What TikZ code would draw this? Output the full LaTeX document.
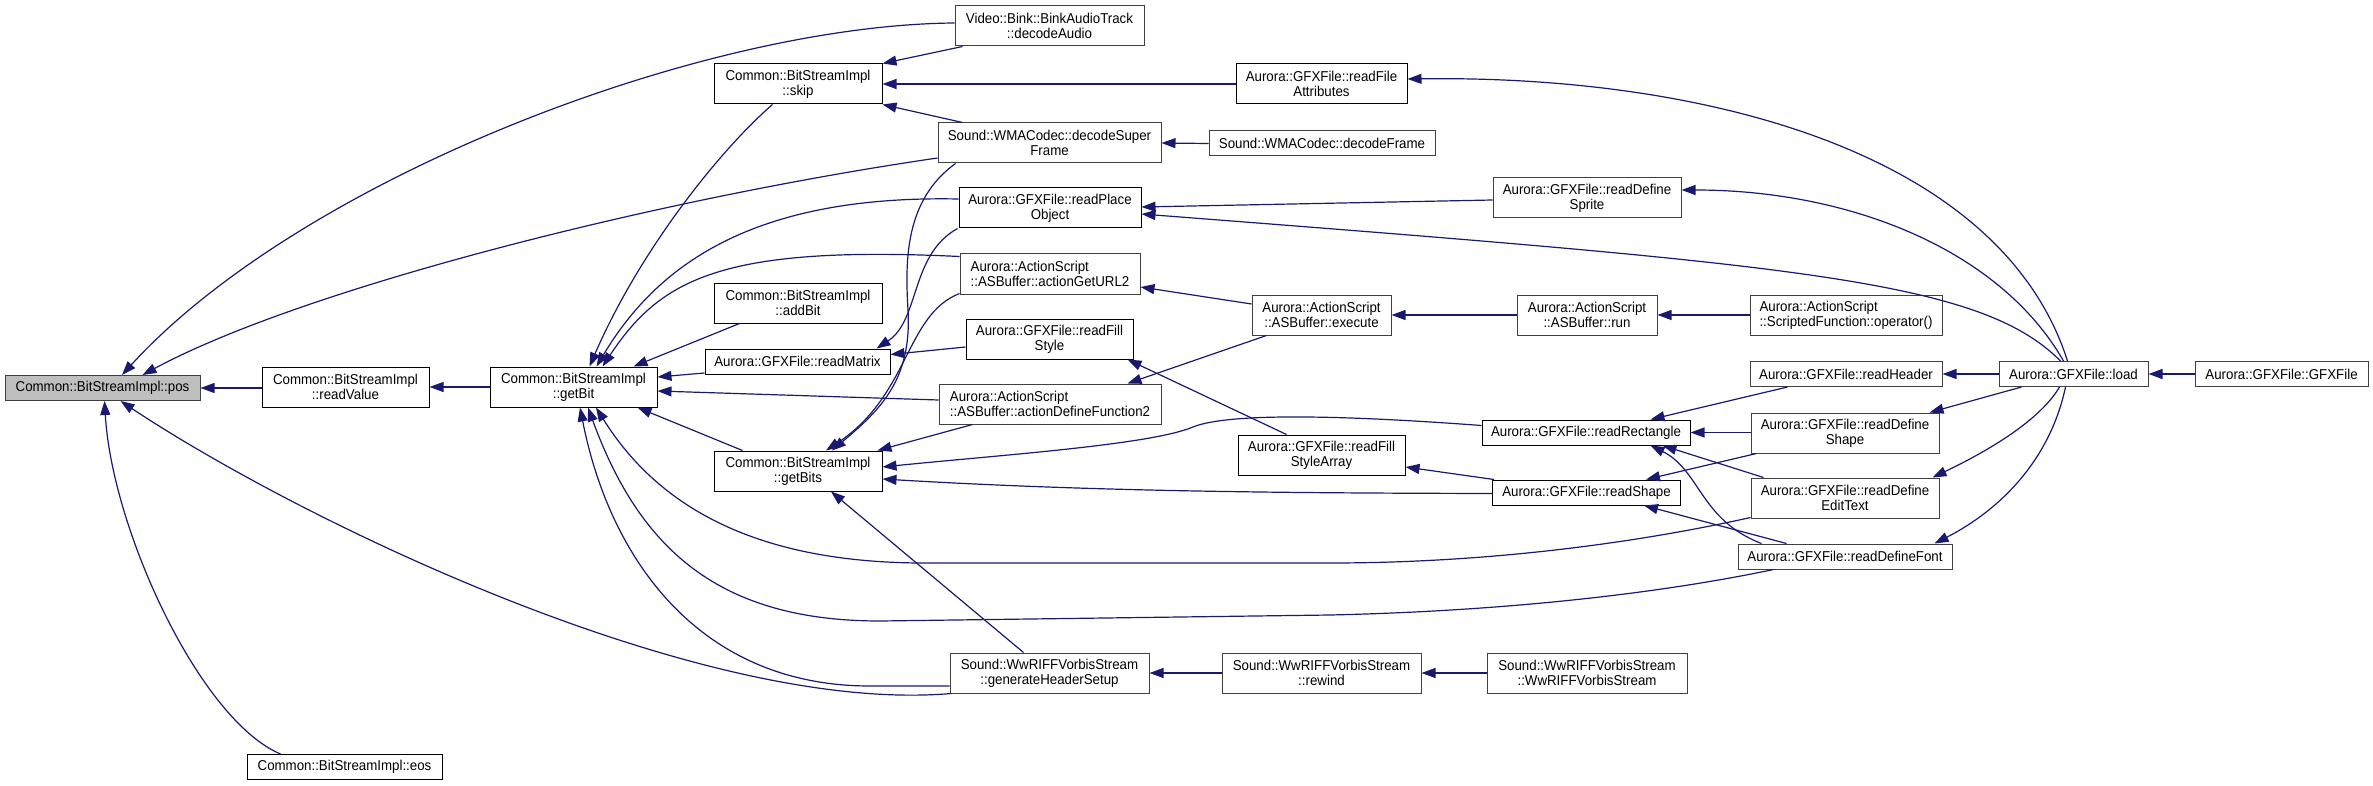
\documentclass[tikz,border=0pt]{standalone}
\usepackage{fontspec}
\setmainfont{Liberation Sans}[FakeStretch=0.93]
\usetikzlibrary{arrows.meta,calc}
\definecolor{edgeblue}{HTML}{191970}
\definecolor{posgray}{HTML}{BFBFBF}
\definecolor{bordergray}{HTML}{404040}
\begin{document}
\begin{tikzpicture}[x=1pt,y=-1pt,
  box/.style={draw=black, line width=1pt, fill=white, inner sep=0pt, align=center,
    font=\fontsize{14.3}{14.8}\selectfont},
  gb/.style={draw=bordergray},
  lbox/.style={box, align=left},
  one/.style={minimum height=25pt},
  two/.style={minimum height=40pt},
  edge/.style={draw=edgeblue, line width=1.2pt, {Triangle[length=14pt,width=10pt]}-}]
\useasboundingbox (0,0) rectangle (2373,786);
% column 1-3
\node[box,gb,one,fill=posgray,minimum width=195pt] (pos) at (102.5,388) {Common::BitStreamImpl::pos};
\node[box,two,minimum width=167pt] (readValue) at (345.5,387) {Common::BitStreamImpl\\::readValue};
\node[box,one,minimum width=195pt] (eos) at (344.5,767) {Common::BitStreamImpl::eos};
\node[box,two,minimum width=167pt] (getBit) at (573.5,387) {Common::BitStreamImpl\\::getBit};
% column 4
\node[box,two,minimum width=168pt] (skip) at (798,84) {Common::BitStreamImpl\\::skip};
\node[box,two,minimum width=168pt] (addBit) at (798,303) {Common::BitStreamImpl\\::addBit};
\node[box,one,minimum width=185pt] (readMatrix) at (797.5,361.5) {Aurora::GFXFile::readMatrix};
\node[box,two,minimum width=168pt] (getBits) at (798,471) {Common::BitStreamImpl\\::getBits};
% column 5
\node[box,gb,two,minimum width=189pt] (decodeAudio) at (1049.5,26) {Video::Bink::BinkAudioTrack\\::decodeAudio};
\node[box,gb,two,minimum width=223pt] (decodeSuperFrame) at (1049.5,143) {Sound::WMACodec::decodeSuper\\Frame};
\node[box,two,minimum width=182pt] (readPlaceObject) at (1050,208) {Aurora::GFXFile::readPlace\\Object};
\node[lbox,gb,two,minimum width=180pt] (actionGetURL2) at (1050,274) {Aurora::ActionScript\\::ASBuffer::actionGetURL2};
\node[box,two,minimum width=167pt] (readFillStyle) at (1049.5,339) {Aurora::GFXFile::readFill\\Style};
\node[lbox,gb,two,minimum width=222pt] (actionDefineFunction2) at (1050,404) {Aurora::ActionScript\\::ASBuffer::actionDefineFunction2};
\node[box,gb,two,minimum width=199pt] (generateHeaderSetup) at (1049.5,673) {Sound::WwRIFFVorbisStream\\::generateHeaderSetup};
% column 6
\node[box,two,minimum width=171pt] (readFileAttributes) at (1321.5,84) {Aurora::GFXFile::readFile\\Attributes};
\node[box,gb,one,minimum width=226pt] (decodeFrame) at (1322,143.5) {Sound::WMACodec::decodeFrame};
\node[box,gb,two,minimum width=139pt] (execute) at (1321.5,315) {Aurora::ActionScript\\::ASBuffer::execute};
\node[box,two,minimum width=167pt] (readFillStyleArray) at (1321.5,455) {Aurora::GFXFile::readFill\\StyleArray};
\node[box,gb,two,minimum width=199pt] (rewind) at (1321.5,673) {Sound::WwRIFFVorbisStream\\::rewind};
% column 7
\node[box,gb,two,minimum width=188pt] (readDefineSprite) at (1587,198) {Aurora::GFXFile::readDefine\\Sprite};
\node[box,gb,two,minimum width=140pt] (run) at (1587,315) {Aurora::ActionScript\\::ASBuffer::run};
\node[box,one,minimum width=208pt] (readRectangle) at (1586,432.5) {Aurora::GFXFile::readRectangle};
\node[box,one,minimum width=188pt] (readShape) at (1586.5,492.5) {Aurora::GFXFile::readShape};
\node[box,gb,two,minimum width=200pt] (wwctor) at (1587,673) {Sound::WwRIFFVorbisStream\\::WwRIFFVorbisStream};
% column 8
\node[lbox,gb,two,minimum width=192pt] (operatorfn) at (1846,315) {Aurora::ActionScript\\::ScriptedFunction::operator()};
\node[box,gb,one,minimum width=192pt] (readHeader) at (1846,374) {Aurora::GFXFile::readHeader};
\node[box,gb,two,minimum width=188pt] (readDefineShape) at (1845,433) {Aurora::GFXFile::readDefine\\Shape};
\node[box,gb,two,minimum width=188pt] (readDefineEditText) at (1845,498) {Aurora::GFXFile::readDefine\\EditText};
\node[box,gb,one,minimum width=214pt] (readDefineFont) at (1845,556.5) {Aurora::GFXFile::readDefineFont};
% column 9-10
\node[box,gb,one,minimum width=149pt] (load) at (2073.5,374) {Aurora::GFXFile::load};
\node[box,gb,one,minimum width=173pt] (gfxctor) at (2281.5,374) {Aurora::GFXFile::GFXFile};

% ---- edges (arrow at callee)
\draw[edge] (pos.east) -- (pos.east -| readValue.west);
\draw[edge] (readValue.east) -- (getBit.west);
\draw[edge] ($(pos.south)+(2,0)$) .. controls (112,530) and (200,720) .. ($(eos.north)+(-64,0)$);
\draw[edge] ($(pos.south)+(18,0)$) .. controls (300,520) and (700,715) .. ($(generateHeaderSetup.south west)+(2,0)$);
\draw[edge] ($(pos.north)+(19.5,0)$) .. controls (300,180) and (700,25) .. ($(decodeAudio.west)+(0,-3)$);
\draw[edge] ($(pos.north)+(40,0)$) .. controls (300,290) and (650,200) .. ($(decodeSuperFrame.west)+(0,15)$);

\draw[edge] ($(getBit.north)+(16,0)$) .. controls (640,250) and (720,150) .. ($(skip.south west)+(59,0)$);
\draw[edge] ($(getBit.north)+(23,0)$) .. controls (660,260) and (760,195) .. ($(readPlaceObject.west)+(0,-9)$);
\draw[edge] ($(getBit.north)+(29,0)$) .. controls (660,280) and (720,245) .. ($(actionGetURL2.north west)+(0,3)$);
\draw[edge] ($(getBit.north east)+(-24,0)$) -- ($(addBit.south west)+(26,0)$);
\draw[edge] ($(getBit.east)+(0,-10)$) -- ($(readMatrix.west)+(0,11.5)$);
\draw[edge] ($(getBit.east)+(0,4)$) -- ($(actionDefineFunction2.west)+(0,-4)$);
\draw[edge] ($(getBit.south east)+(-20,0)$) -- ($(getBits.north west)+(29,0)$);
\draw[edge] ($(getBit.south)+(22.5,0)$) .. controls (660,510) and (760,562) .. (920,563) -- (1330,563) .. controls (1500,563) and (1650,540) .. ($(readDefineEditText.south west)+(0,-1)$);
\draw[edge] ($(getBit.south)+(14.5,0)$) .. controls (640,550) and (720,621) .. (880,621) -- (1330,615) .. controls (1550,610) and (1700,585) .. ($(readDefineFont.south west)+(36,0)$);
\draw[edge] ($(getBit.south)+(6.5,0)$) .. controls (610,560) and (700,686) .. (870,686) -- ($(generateHeaderSetup.west)+(0,13)$);

\draw[edge] ($(getBits.north)+(34,0)$) .. controls (880,410) and (912,380) .. (908,310) .. controls (905,260) and (905,200) .. ($(decodeSuperFrame.south west)+(18,0)$);
\draw[edge] ($(getBits.north)+(28,0)$) .. controls (910,395) and (905,315) .. ($(actionGetURL2.south west)+(0,-1)$);
\draw[edge] ($(readMatrix.north east)+(-14,0)$) .. controls (920,320) and (910,255) .. ($(readPlaceObject.south west)+(-1,0)$);
\draw[edge] ($(getBits.north east)+(-5,0)$) -- ($(actionDefineFunction2.south west)+(34,0)$);
\draw[edge] ($(getBits.east)+(0,-4)$) .. controls (1000,455) and (1150,445) .. (1193,427) .. controls (1220,416) and (1300,412) .. ($(readRectangle.west)+(0,-7)$);
\draw[edge] ($(getBits.east)+(0,8)$) .. controls (1100,492) and (1300,493) .. ($(readShape.west)+(0,1)$);
\draw[edge] ($(getBits.south)+(33,0)$) -- ($(generateHeaderSetup.north west)+(74,0)$);

\draw[edge] (skip.north east) -- ($(decodeAudio.south west)+(8,0)$);
\draw[edge] (skip.east) -- (readFileAttributes.west);
\draw[edge] (skip.south east) -- ($(decodeSuperFrame.north west)+(25,0)$);
\draw[edge] (decodeSuperFrame.east) -- (decodeFrame.west);
\draw[edge] ($(readFileAttributes.east)+(0,-5)$) .. controls (1700,75) and (2000,150) .. ($(load.north)+(-6,0)$);
\draw[edge] ($(readPlaceObject.east)+(0,-1)$) -- ($(readDefineSprite.west)+(0,2)$);
\draw[edge] ($(readPlaceObject.east)+(0,6)$) .. controls (1800,265) and (1980,280) .. ($(load.north)+(-13,0)$);
\draw[edge] ($(readDefineSprite.east)+(0,-8)$) .. controls (1850,190) and (2000,250) .. ($(load.north)+(-10,0)$);
\draw[edge] ($(actionGetURL2.east)+(0,13)$) -- ($(execute.west)+(0,-11)$);
\draw[edge] ($(actionDefineFunction2.north east)+(-34,0)$) -- ($(execute.south west)+(15,0)$);
\draw[edge] (execute.east) -- (run.west);
\draw[edge] (run.east) -- (operatorfn.west);
\draw[edge] ($(readMatrix.east)+(0,-7)$) -- ($(readFillStyle.west)+(0,8)$);
\draw[edge] ($(readFillStyle.south east)+(-6,0)$) -- ($(readFillStyleArray.north west)+(49,0)$);
\draw[edge] ($(readFillStyleArray.east)+(0,12)$) -- ($(readShape.north west)+(2,0)$);
\draw[edge] (readHeader.east) -- (load.west);
\draw[edge] (load.east) -- (gfxctor.west);
\draw[edge] ($(readRectangle.north east)+(-40,0)$) -- ($(readHeader.south west)+(38,0)$);
\draw[edge] (readRectangle.east) -- (readRectangle.east -| readDefineShape.west);
\draw[edge] ($(readRectangle.south east)+(-28,0)$) -- ($(readDefineEditText.north west)+(13,0)$);
\draw[edge] ($(readRectangle.south east)+(-40,0)$) .. controls (1700,470) and (1700,520) .. ($(readDefineFont.north west)+(24,0)$);
\draw[edge] ($(readShape.north east)+(-35,0)$) -- ($(readDefineShape.south west)+(6,0)$);
\draw[edge] ($(readShape.south east)+(-37,0)$) -- ($(readDefineFont.north west)+(49,0)$);
\draw[edge] ($(readDefineShape.north east)+(-10,0)$) -- ($(load.south west)+(23,0)$);
\draw[edge] ($(readDefineEditText.north east)+(-7,0)$) .. controls (1990,450) and (2040,420) .. ($(load.south)+(-14,0)$);
\draw[edge] ($(readDefineFont.north east)+(-18,0)$) .. controls (2000,510) and (2050,460) .. ($(load.south)+(-8,0)$);
\draw[edge] (generateHeaderSetup.east) -- (rewind.west);
\draw[edge] (rewind.east) -- (wwctor.west);
\end{tikzpicture}
\end{document}
